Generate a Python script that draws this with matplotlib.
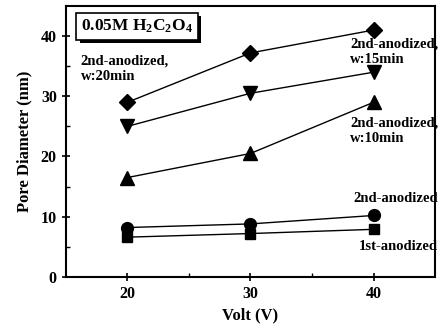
import matplotlib
matplotlib.use("Agg")
import matplotlib.pyplot as plt
import matplotlib.patheffects as pe

plt.rcParams['font.family'] = ['Liberation Serif', 'DejaVu Serif']
plt.rcParams['font.weight'] = 'bold'
plt.rcParams['mathtext.fontset'] = 'custom'
plt.rcParams['mathtext.rm'] = 'Liberation Serif:bold'
plt.rcParams['mathtext.it'] = 'Liberation Serif:bold'
plt.rcParams['mathtext.bf'] = 'Liberation Serif:bold'

volt = [20, 30, 40]
w20 = [29.0, 37.2, 41.0]
w15 = [25.0, 30.5, 34.0]
w10 = [16.5, 20.5, 29.0]
second = [8.2, 8.8, 10.2]
first = [6.6, 7.2, 7.9]

fig = plt.figure(figsize=(4.39, 3.32), dpi=100)
ax = fig.add_axes([0.150, 0.166, 0.841, 0.816])

ax.plot(volt, w20, 'k-', marker='D', ms=8, lw=1)
ax.plot(volt, w15, 'k-', marker='v', ms=9.5, lw=1)
ax.plot(volt, w10, 'k-', marker='^', ms=9.5, lw=1)
ax.plot(volt, second, 'k-', marker='o', ms=8.5, lw=1)
ax.plot(volt, first, 'k-', marker='s', ms=7.5, lw=1)

ax.set_xlim(15, 45)
ax.set_ylim(0, 45)
ax.set_xticks([20, 30, 40])
ax.set_xticks([25, 35], minor=True)
ax.set_yticks([0, 10, 20, 30, 40])
ax.set_yticks([5, 15, 25, 35], minor=True)
ax.tick_params(which='major', direction='inout', length=6, width=1.2, labelsize=11.5)
ax.tick_params(which='minor', direction='in', length=3, width=1)
for s in ax.spines.values():
    s.set_linewidth(1.5)

ax.set_xlabel('Volt (V)', fontsize=12, fontweight='bold', labelpad=4)
ax.set_ylabel('Pore Diameter (nm)', fontsize=12, fontweight='bold', labelpad=6)

kw = dict(fontsize=10.5, fontweight='bold', clip_on=False, linespacing=1.25)
ax.text(16.2, 36.9, '2nd-anodized,\nw:20min', va='top', ha='left', **kw)
ax.text(38.1, 39.7, '2nd-anodized,\nw:15min', va='top', ha='left', **kw)
ax.text(38.1, 26.6, '2nd-anodized,\nw:10min', va='top', ha='left', **kw)
ax.text(38.4, 13.1, '2nd-anodized', va='center', ha='left', **kw)
ax.text(38.8, 5.1, '1st-anodized', va='center', ha='left', **kw)

t = ax.text(20.8, 41.6, r'0.05M $\mathrm{H_2C_2O_4}$', fontsize=12.5, ha='center', va='center',
            bbox=dict(boxstyle='square,pad=0.28', fc='white', ec='black', lw=1.2))
t.get_bbox_patch().set_path_effects([
    pe.SimplePatchShadow(offset=(2.5, -2.5), shadow_rgbFace='black', alpha=1), pe.Normal()])

fig.savefig('out.png', dpi=100)
